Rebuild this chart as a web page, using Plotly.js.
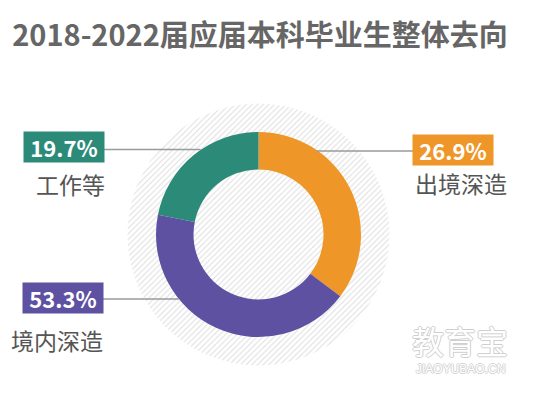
<!DOCTYPE html>
<html>
<head>
<meta charset="utf-8">
<script src="https://cdn.plot.ly/plotly-3.0.1.min.js"></script>
<style>html,body{margin:0;padding:0;background:#fff;}#chart{width:535px;height:395px;}</style>
</head>
<body>
<div id="chart"></div>
<script>
// Categories in drawing order (clockwise from 12 o'clock)
const categories = ['出境深造', '境内深造', '工作等'];
// Slice shares as drawn in the picture
const sliceValues = [35.3, 42.8, 21.9];
// Percent labels printed on the chart
const percentLabels = ['26.9%', '53.3%', '19.7%'];
const colors = ['#EF9628', '#5E51A2', '#2C8A79'];

const W = 535, H = 395;
const cx = 258.5, cy = 234.5, R = 102.5, Rbg = 131;
const px = x => x / W, py = y => 1 - y / H;

const bg = {
  type: 'pie', values: [1], labels: ['bg'], sort: false,
  domain: {x: [px(cx - Rbg), px(cx + Rbg)], y: [py(cy + Rbg), py(cy - Rbg)]},
  marker: {colors: ['#ffffff'], line: {width: 0},
    pattern: {shape: '/', fgcolor: '#dedede', bgcolor: '#ffffff', size: 4, solidity: 0.25}},
  textinfo: 'none', hoverinfo: 'skip', showlegend: false
};

const donut = {
  type: 'pie', values: sliceValues, labels: categories, sort: false,
  direction: 'clockwise', rotation: 0, hole: 0.634,
  domain: {x: [px(cx - R), px(cx + R)], y: [py(cy + R), py(cy - R)]},
  marker: {colors: colors, line: {width: 0}},
  textinfo: 'none', hoverinfo: 'skip', showlegend: false
};

// label layout: [boxCenterX, boxCenterY, nameCenterX, nameCenterY, lineY, lineX1, lineX2]
const pos = [
  [453, 150, 461, 183, 151, 316.5, 413],
  [63, 298, 57, 340, 299, 103, 179],
  [64, 147, 70, 184, 149.5, 104, 200.5]
];

const annotations = [];
const shapes = [];
categories.forEach((c, i) => {
  const p = pos[i];
  annotations.push({
    xref: 'paper', yref: 'paper', x: px(p[0]), y: py(p[1]), xanchor: 'center', yanchor: 'middle',
    text: percentLabels[i], showarrow: false, width: 80, height: 30,
    bgcolor: colors[i], borderpad: 0,
    font: {family: 'Noto Sans CJK SC, Noto Sans, sans-serif', size: 22, weight: 600, color: '#ffffff'}
  });
  annotations.push({
    xref: 'paper', yref: 'paper', x: px(p[2]), y: py(p[3]), xanchor: 'center', yanchor: 'middle',
    text: c, showarrow: false,
    font: {family: 'Noto Sans CJK SC, sans-serif', size: 23, color: '#555555'}
  });
  shapes.push({type: 'line', xref: 'paper', yref: 'paper',
    x0: px(p[5]), x1: px(p[6]), y0: py(p[4]), y1: py(p[4]),
    line: {color: '#9a9a9a', width: 1.3}});
});

annotations.push({
  xref: 'paper', yref: 'paper', x: px(460), y: py(340), xanchor: 'center', yanchor: 'middle',
  text: '教育宝', showarrow: false,
  font: {family: 'Noto Sans CJK SC, sans-serif', size: 32, color: '#ffffff',
    shadow: '-1px 0 #cfcfcf, 1px 0 #cfcfcf, 0 -1px #cfcfcf, 0 1px #cfcfcf'}
});
annotations.push({
  xref: 'paper', yref: 'paper', x: px(460), y: py(369), xanchor: 'center', yanchor: 'middle',
  text: 'JIAOYUBAO.CN', showarrow: false,
  font: {family: 'Liberation Sans, sans-serif', size: 12, color: '#ffffff',
    shadow: '-1px 0 #d5d5d5, 1px 0 #d5d5d5, 0 -1px #d5d5d5, 0 1px #d5d5d5'}
});

const layout = {
  width: W, height: H, margin: {l: 0, r: 0, t: 0, b: 0},
  paper_bgcolor: '#ffffff', plot_bgcolor: '#ffffff',
  title: {text: '<b>2018-2022届应届本科毕业生整体去向</b>', x: 0.486, xanchor: 'center', y: py(36), yanchor: 'middle',
    font: {family: 'Noto Sans CJK SC, sans-serif', size: 29, color: '#666666'}},
  showlegend: false, annotations: annotations, shapes: shapes
};

Plotly.newPlot('chart', [bg, donut], layout, {displayModeBar: false, staticPlot: true});
</script>
</body>
</html>
